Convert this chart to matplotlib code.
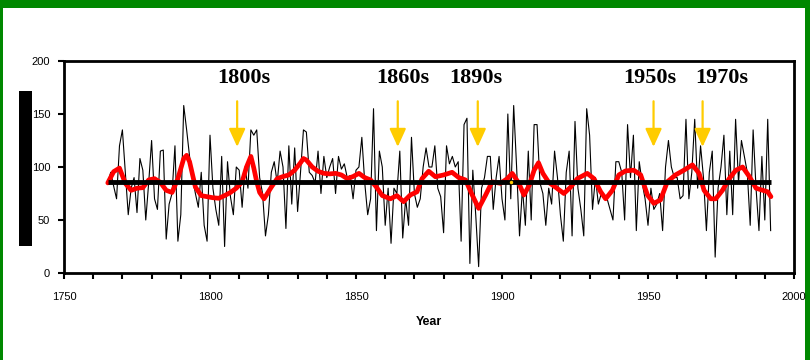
import numpy as np
import matplotlib
matplotlib.use("Agg")
import matplotlib.pyplot as plt
from matplotlib.patches import Rectangle

# ---------------- data ----------------
start_year = 1765
annual_values = [
    85, 95, 82, 70, 120, 135, 95, 55, 80, 90,        # 1765-1774
    57, 108, 97, 50, 85, 125, 70, 60, 115, 116,      # 1775-1784
    32, 65, 75, 120, 30, 55, 158, 135, 110, 90,      # 1785-1794
    75, 62, 95, 45, 30, 130, 80, 60, 45, 110,        # 1795-1804
    25, 105, 72, 55, 100, 97, 62, 100, 80, 135,      # 1805-1814
    130, 135, 90, 75, 35, 55, 95, 105, 85, 115,      # 1815-1824
    100, 42, 120, 65, 118, 58, 95, 135, 133, 95,     # 1825-1834
    92, 85, 115, 75, 110, 90, 100, 108, 75, 110,     # 1835-1844
    98, 103, 90, 92, 70, 97, 100, 128, 85, 55,       # 1845-1854
    70, 155, 40, 115, 100, 45, 80, 28, 80, 75,       # 1855-1864
    115, 33, 70, 45, 128, 75, 62, 70, 100, 118,      # 1865-1874
    100, 100, 120, 80, 72, 38, 120, 103, 110, 100,   # 1875-1884
    105, 30, 140, 146, 9, 97, 55, 6, 80, 90,         # 1885-1894
    110, 110, 60, 90, 110, 70, 50, 150, 70, 158,     # 1895-1904
    100, 35, 80, 45, 115, 50, 140, 140, 85, 75,      # 1905-1914
    45, 80, 65, 115, 90, 55, 30, 95, 115, 35,        # 1915-1924
    143, 80, 60, 35, 155, 130, 60, 90, 65, 75,       # 1925-1934
    70, 70, 60, 50, 105, 105, 95, 50, 140, 90,       # 1935-1944
    130, 40, 105, 85, 70, 45, 80, 60, 65, 75,        # 1945-1954
    40, 100, 125, 100, 90, 90, 70, 73, 145, 70,      # 1955-1964
    95, 145, 80, 120, 90, 40, 95, 115, 15, 80,       # 1965-1974
    100, 130, 55, 115, 55, 145, 85, 125, 110, 95,    # 1975-1984
    45, 135, 80, 40, 110, 50, 145, 40,               # 1985-1992
]
years = np.arange(start_year, start_year + len(annual_values))

smooth_years = [1765, 1767, 1769, 1771, 1773, 1775, 1777, 1779, 1781, 1783,
                1785, 1787, 1789, 1791, 1792, 1793, 1795, 1797, 1799, 1801,
                1803, 1805, 1807, 1809, 1811, 1812.5, 1814, 1815, 1816, 1817,
                1818.5, 1821, 1823, 1825, 1827, 1829, 1831, 1832, 1833, 1835,
                1837, 1839, 1841, 1843, 1845, 1847, 1849, 1851, 1853, 1855,
                1857, 1859, 1861.8, 1864, 1866.3, 1868.6, 1870.9, 1872.6, 1874.9, 1877.2,
                1880, 1882.9, 1885.2, 1887.5, 1889.8, 1892, 1894.4, 1896.6, 1899.5, 1901.8,
                1903.5, 1905.8, 1907.5, 1909.3, 1911, 1912.5, 1914, 1916, 1918.3, 1921.2,
                1923.5, 1925.8, 1929.2, 1931.5, 1933.8, 1935.5, 1937.8, 1940, 1942.3, 1945.1,
                1947.5, 1949.8, 1952, 1954.3, 1956.6, 1959.4, 1962.3, 1965.2, 1967.5, 1969.2,
                1971.5, 1973.2, 1975.5, 1977.8, 1980.1, 1982.4, 1984.7, 1987, 1989.3, 1991,
                1992.1]
smooth_values = [85, 95.6, 99, 84.6, 78, 80, 80.5, 87.8, 89, 85.5,
                 78, 76, 89, 108, 111, 105, 81, 73, 72, 71,
                 70.5, 73, 76, 80, 86, 100, 110, 99, 86, 76,
                 70, 81, 89, 91, 92.5, 97, 104, 108, 106.6, 100,
                 96, 94, 93.5, 94, 92.5, 89, 91, 94, 90, 87.8,
                 81, 73, 70, 73, 67.3, 73.6, 76.6, 89, 96, 90.8,
                 92.5, 95, 90, 87.8, 73.6, 61, 73.6, 86, 84.6, 89,
                 94, 84.6, 73.6, 82.5, 97, 104, 94, 85.5, 81, 75,
                 81, 89, 94, 89, 76.6, 70, 78, 92.5, 96.3, 97,
                 92.5, 73.6, 65.7, 69, 86, 92.5, 97, 102, 94, 78,
                 70, 70, 78, 89, 97, 100, 91, 80, 78, 76.6,
                 72]

mean_value = 86
mean_span = [1765, 1992]

event_labels = ["1800s", "1860s", "1890s", "1950s", "1970s"]
event_arrow_years = [1809.3, 1864.3, 1891.7, 1951.9, 1968.7]
event_label_years = [1811.5, 1866.0, 1891.0, 1950.6, 1975.3]

x_label = "Year"
x_ticks = [1750, 1800, 1850, 1900, 1950, 2000]
y_ticks = [0, 50, 100, 150, 200]

# ---------------- figure ----------------
W, H = 810, 360
fig = plt.figure(figsize=(W / 100, H / 100), dpi=100)
fig.patch.set_facecolor("white")

narrow = ["Liberation Sans Narrow", "Liberation Sans", "DejaVu Sans"]
serif = ["Liberation Serif", "DejaVu Serif"]

# green frame pieces
green = "#008800"
fig.add_artist(Rectangle((0, 1 - 8 / H), 1, 8 / H, transform=fig.transFigure,
                         facecolor=green, edgecolor="none", zorder=0))
fig.add_artist(Rectangle((0, 0), 3 / W, 1, transform=fig.transFigure,
                         facecolor=green, edgecolor="none", zorder=0))
fig.add_artist(Rectangle((805 / W, 0), 5 / W, 1, transform=fig.transFigure,
                         facecolor=green, edgecolor="none", zorder=0))
# black block on the left (hidden axis title)
fig.add_artist(Rectangle((19 / W, 1 - 246 / H), 13 / W, 155 / H,
                         transform=fig.transFigure, facecolor="black",
                         edgecolor="none", zorder=1))

ax = fig.add_axes([64 / W, 1 - 273 / H, (794 - 64) / W, (273 - 61) / H])
ax.set_xlim(1750, 2000)
ax.set_ylim(0, 200)

ax.plot(years, annual_values, color="black", lw=0.8, zorder=2)
ax.plot(smooth_years, smooth_values, color="#ff0000", lw=3.4,
        solid_capstyle="round", solid_joinstyle="round", zorder=3)
ax.plot(mean_span, [mean_value, mean_value], color="black", lw=3.5,
        solid_capstyle="butt", zorder=4)
ax.plot([1903], [mean_value], marker="o", ms=2.5, color="#ffcc00",
        mec="none", zorder=5)

for lab, xa, xl in zip(event_labels, event_arrow_years, event_label_years):
    ax.annotate("", xy=(xa, 119), xytext=(xa, 162),
                arrowprops=dict(arrowstyle="-|>,head_length=1.1,head_width=0.5",
                                color="#ffcc00", lw=1.6, shrinkA=0, shrinkB=0,
                                mutation_scale=10),
                zorder=6)
    ax.text(xl, 184, lab, ha="center", va="center", fontsize=16,
            fontweight="bold", family=serif, color="black", zorder=6)

for s in ax.spines.values():
    s.set_linewidth(2.0)
    s.set_color("black")

ax.set_xticks(x_ticks)
ax.set_xticks(np.arange(1750, 2001, 10), minor=True)
ax.set_yticks(y_ticks)
ax.tick_params(axis="both", which="both", direction="out", length=4,
               width=1.5, color="black")
ax.tick_params(axis="x", pad=10)
ax.tick_params(axis="y", pad=6)
ax.set_xticklabels([str(t) for t in x_ticks], fontsize=8, family=narrow)
ax.set_yticklabels([str(t) for t in y_ticks], fontsize=8, family=narrow)
ax.set_xlabel(x_label, fontsize=9, fontweight="bold", family=narrow, labelpad=10)

fig.savefig("out.png", dpi=100, facecolor="white")
